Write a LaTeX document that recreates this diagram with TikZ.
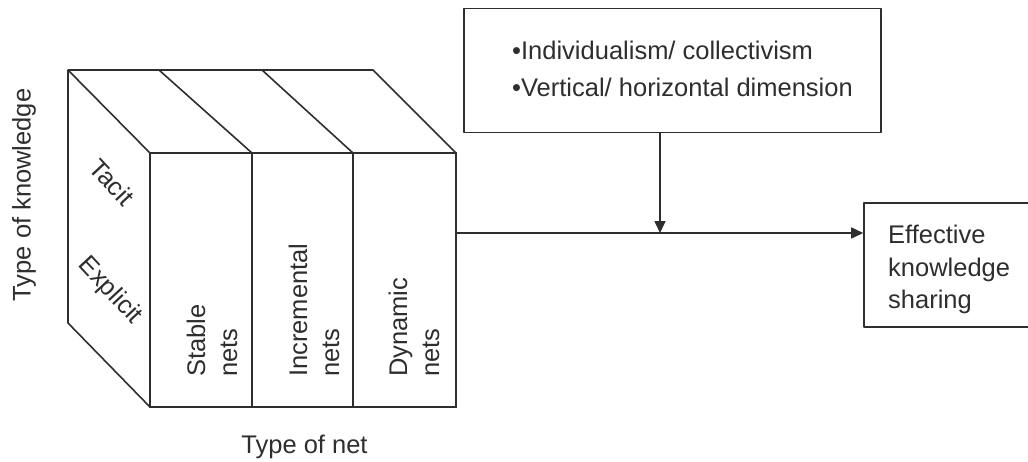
\documentclass[tikz,border=0pt]{standalone}
\usepackage{fontspec}
\setmainfont{Liberation Sans}
\usetikzlibrary{arrows.meta}
\begin{document}
\begin{tikzpicture}[x=1pt,y=-1pt,
  ink/.style={draw=black!82},
  thin line/.style={ink,line width=1.6pt,line join=round},
  thick line/.style={ink,line width=2.6pt,line join=miter},
  lbl/.style={text=black!82,inner sep=0pt,font=\fontsize{25.5}{30}\selectfont},
  vlbl/.style={lbl,rotate=90,anchor=base west},
  slbl/.style={lbl,rotate=-47},
  flow/.style={thin line,-{Triangle[length=12pt,width=11pt]}},
  boxstyle/.style={thin line,rectangle,inner sep=0pt}]
\useasboundingbox (0,0) rectangle (1028,461);

% cube corners
\coordinate (b0) at (68,70);
\coordinate (b1) at (159,70);
\coordinate (b2) at (262,70);
\coordinate (b3) at (373,70);
\coordinate (f0) at (150,153);
\coordinate (f1) at (252,153);
\coordinate (f2) at (353,153);
\coordinate (f3) at (456,153);
\coordinate (g0) at (150,407);
\coordinate (g1) at (252,407);
\coordinate (g2) at (353,407);
\coordinate (g3) at (456,407);
\coordinate (lb) at (68,323);

% left (knowledge) face and top face
\draw[thin line] (f0) -- (b0) -- (lb) -- (g0);
\draw[thin line] (b0) -- (b3) -- (f3);
\draw[thin line] (b1) -- (f1);
\draw[thin line] (b2) -- (f2);

% front face: the three kinds of nets
\draw[thick line] (f0) rectangle (g3);
\draw[thick line] (f1) -- (g1);
\draw[thick line] (f2) -- (g2);

% labels on the cube
\node[slbl] (tacit) at (112,182) {Tacit};
\node[slbl] (explicit) at (110,291) {Explicit};
\node[vlbl] (stable1) at (205,377) {Stable};
\node[vlbl] (stable2) at (237,377) {nets};
\node[vlbl] (incr1) at (307,377) {Incremental};
\node[vlbl] (incr2) at (339,377) {nets};
\node[vlbl] (dyn1) at (407,377) {Dynamic};
\node[vlbl] (dyn2) at (439,377) {nets};

% axis captions
\node[lbl,rotate=90] (knowaxis) at (24,195) {Type of knowledge};
\node[lbl,anchor=base] (netaxis) at (304.5,453) {Type of net};

% moderating factors
\node[boxstyle,minimum width=417pt,minimum height=124pt] (factors) at (672.5,70.5) {};
\node[lbl,anchor=base west] (fac1) at (512,59) {•Individualism/ collectivism};
\node[lbl,anchor=base west] (fac2) at (512,96) {•Vertical/ horizontal dimension};

% outcome
\node[boxstyle,minimum width=172pt,minimum height=124pt] (outcome) at (950,265) {};
\node[lbl,anchor=base west] (out1) at (888,243) {Effective};
\node[lbl,anchor=base west] (out2) at (888,276) {knowledge};
\node[lbl,anchor=base west] (out3) at (888,308) {sharing};

% connectors
\coordinate (cubeout) at (456,233);
\coordinate (join) at (660,233);
\draw[flow] (cubeout) -- (cubeout -| outcome.west);
\draw[flow] (join |- factors.south) -- (join);
\end{tikzpicture}
\end{document}
